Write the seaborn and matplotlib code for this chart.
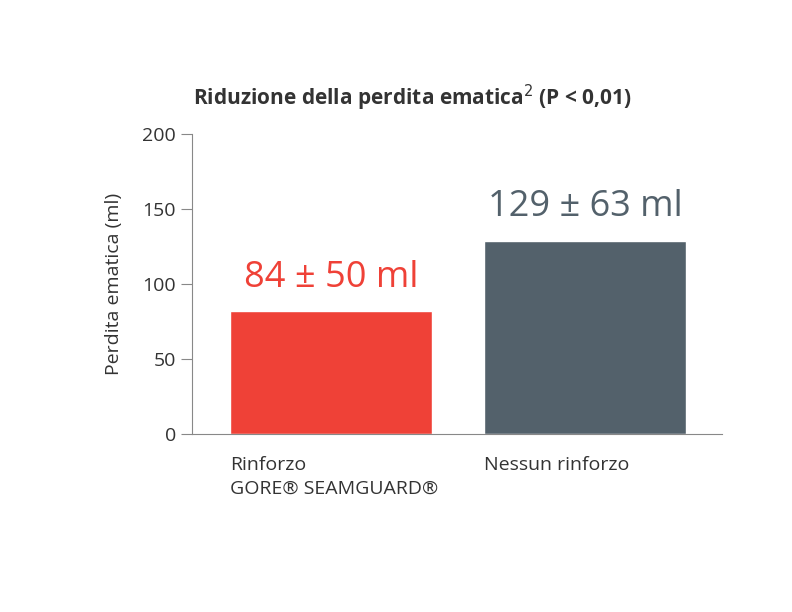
import matplotlib
matplotlib.use("Agg")
import matplotlib.pyplot as plt
import seaborn as sns
import pandas as pd

categories = ["Rinforzo\nGORE® SEAMGUARD®", "Nessun rinforzo"]
values = [82, 129]
value_labels = ["84 ± 50 ml", "129 ± 63 ml"]
colors = ["#ef4137", "#53616b"]
yticks = [0, 50, 100, 150, 200]

sns.set_theme(style="ticks")
plt.rcParams['font.family'] = ['Open Sans', 'DejaVu Sans']

fig = plt.figure(figsize=(7.92, 6.12), dpi=100)
ax = fig.add_axes([192/792, 1-434/612, 530/792, 300/612])
df = pd.DataFrame({"cat": categories, "val": values})
sns.barplot(data=df, x="cat", y="val", hue="cat", palette=colors, width=0.795,
            legend=False, ax=ax, saturation=1)
ax.set_xlim(-0.547, 1.539)
ax.set_ylim(0, 200)
ax.set_yticks(yticks)
ax.tick_params(axis='y', labelsize=14, colors="#333333", length=8, width=0.8, color="#888888")
ax.tick_params(axis='x', labelsize=14, colors="#333333", length=0, pad=16)
ax.set_xticks([-0.397, 0.603])
ax.set_xticklabels(categories, ha='left', fontsize=14, color="#333333", linespacing=1.4)
ax.set_xlabel("")
ax.set_ylabel("Perdita ematica (ml)", fontsize=14, color="#333333", labelpad=14)
for s in ["top", "right"]:
    ax.spines[s].set_visible(False)
for s in ["left", "bottom"]:
    ax.spines[s].set_color("#888888")
    ax.spines[s].set_linewidth(0.8)
for i, (v, t, c) in enumerate(zip(values, value_labels, colors)):
    ax.text(i, v + 10, t, ha='center', va='bottom', fontsize=26, color=c)
fig.text(412/792, 1-98/612, "Riduzione della perdita ematica$^{2}$ (P < 0,01)",
         ha='center', va='center', fontsize=15, fontweight='bold', color="#333333")
fig.savefig("out.png", dpi=100)
